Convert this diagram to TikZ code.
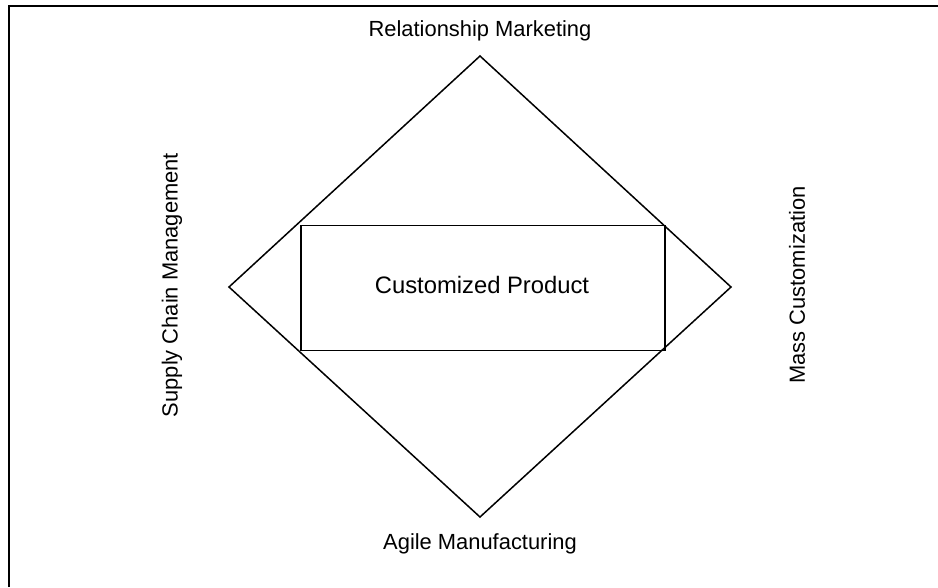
\documentclass[tikz,border=0pt]{standalone}
\usepackage{fontspec}
\setmainfont{Liberation Sans}
\begin{document}
\begin{tikzpicture}[x=1pt,y=-1pt,
  lbl/.style={font=\fontsize{21.9}{24}\selectfont, inner sep=0pt, anchor=center},
  shp/.style={draw=black, line width=1.5pt}]
\useasboundingbox (0,0) rectangle (938,587);
\fill[white] (0,0) rectangle (938,587);
\coordinate (fa) at (9,587);
\coordinate (fb) at (9,6);
\coordinate (fc) at (938,6);
\draw[line width=2.2pt] (fa) -- (fb) -- (fc);
\coordinate (top) at (480,56);
\coordinate (right) at (731,287);
\coordinate (bottom) at (480,517);
\coordinate (left) at (229,287);
\draw[shp, line join=miter] (top) -- (right) -- (bottom) -- (left) -- cycle;
\node[shp, minimum width=364pt, minimum height=125pt, inner sep=0pt] (box) at (483,288) {};
\node[lbl, font=\fontsize{23.8}{26}\selectfont] (cp) at (482,285) {Customized Product};
\node[lbl] (rm) at (480,31) {Relationship Marketing};
\node[lbl] (am) at (480,544) {Agile Manufacturing};
\node[lbl, rotate=90] (scm) at (172,285) {Supply Chain Management};
\node[lbl, rotate=90] (mc) at (797,285) {Mass Customization};
\end{tikzpicture}
\end{document}
